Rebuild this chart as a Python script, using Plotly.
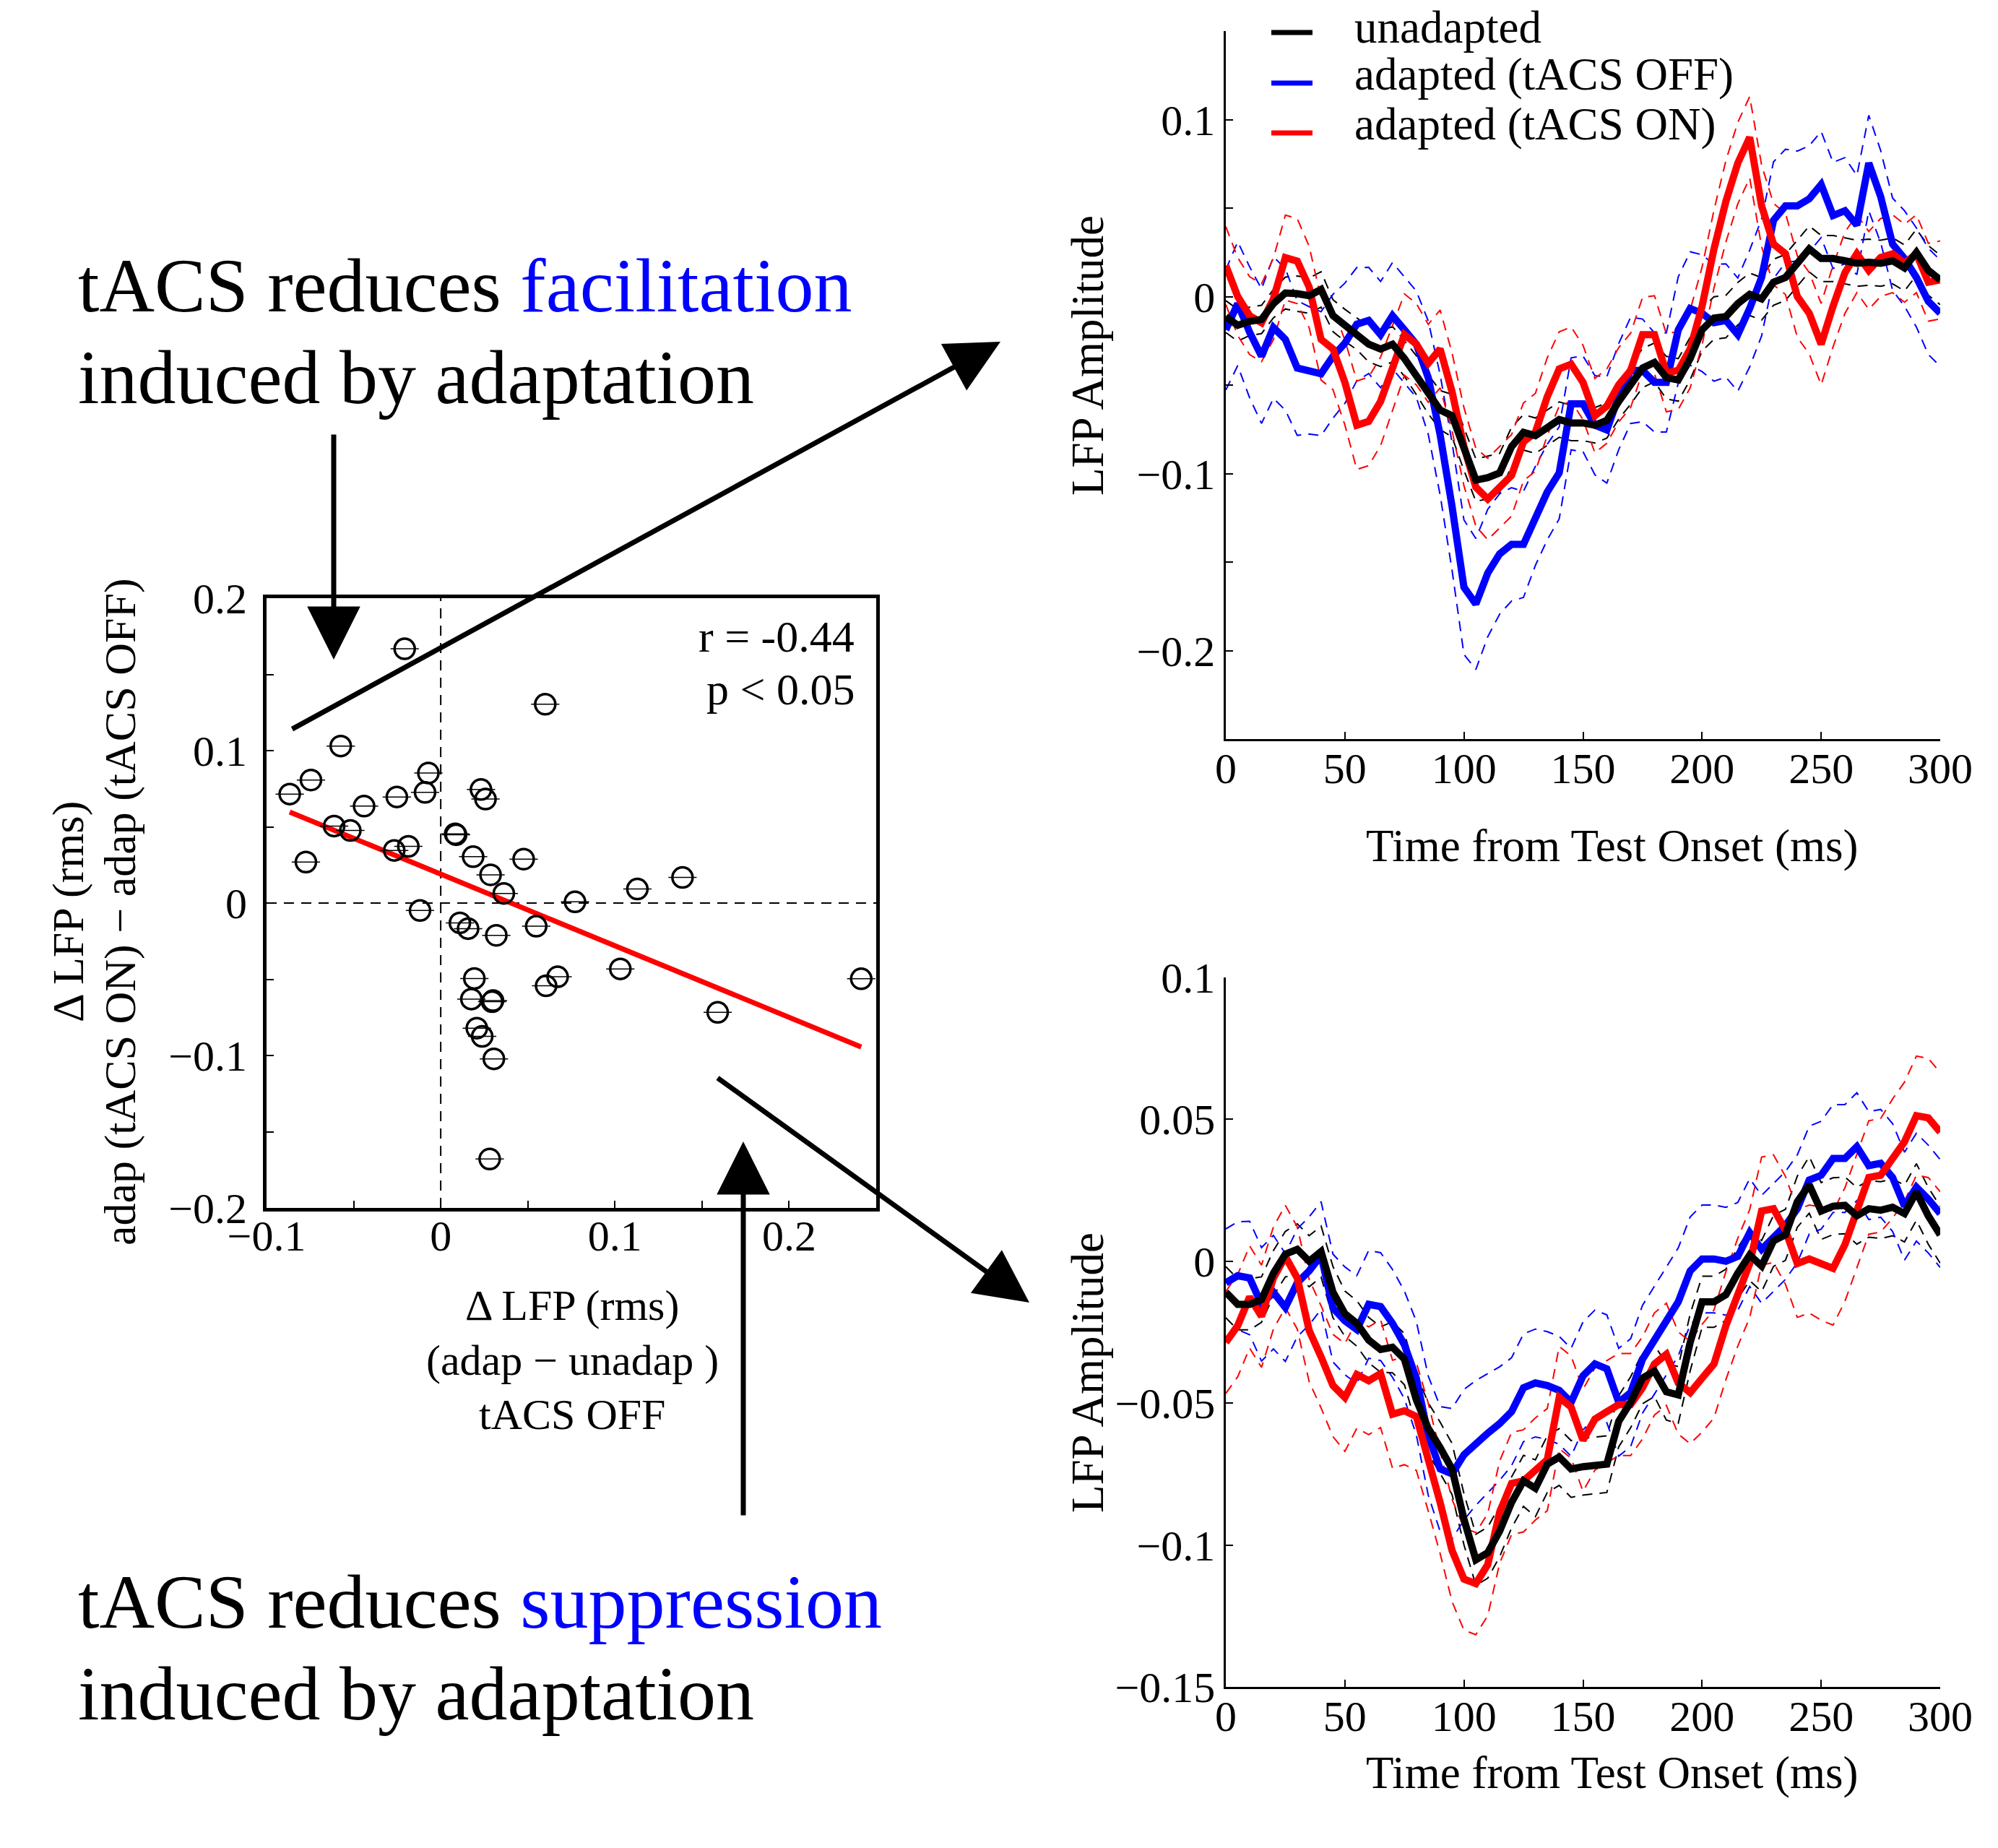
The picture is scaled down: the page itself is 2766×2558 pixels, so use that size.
import numpy as np
import plotly.graph_objects as go

W, H = 2766, 2558
FONT = "Liberation Serif"

def px(x):
    return x / W

def py(y):
    return 1 - y / H

# ---------------- scatter data ----------------
scatter_x = [-0.0207, 0.0600, -0.0574, -0.0745, -0.0867, -0.0071, -0.0252, -0.0090, -0.0440, 0.0231,
             0.0257, -0.0612, -0.0519, 0.0083, 0.0088, -0.0267, -0.0186, -0.0774, 0.0186, 0.0476,
             0.0286, 0.0362, 0.0771, 0.1129, 0.1388, -0.0119, 0.0110, 0.0157, 0.0319, 0.0548,
             0.0193, 0.0671, 0.0605, 0.1031, 0.2414, 0.0176, 0.0295, 0.0300, 0.0207, 0.0238,
             0.0305, 0.1590, 0.0281]
scatter_y = [0.1668, 0.1304, 0.1030, 0.0807, 0.0715, 0.0853, 0.0696, 0.0726, 0.0636, 0.0745,
             0.0682, 0.0505, 0.0476, 0.0454, 0.0448, 0.0345, 0.0372, 0.0269, 0.0304, 0.0288,
             0.0185, 0.0063, 0.0008, 0.0092, 0.0168, -0.0049, -0.0130, -0.0168, -0.0212, -0.0152,
             -0.0495, -0.0484, -0.0543, -0.0432, -0.0497, -0.0630, -0.0647, -0.0640, -0.0821, -0.0875,
             -0.1022, -0.0717, -0.1679]
fit_slope = -0.47
fit_intercept = 0.019
stats_text = ["r = -0.44", "p < 0.05"]

# ---------------- time series data ----------------
time_ms = list(range(0, 305, 5))

black_top = [-0.0113, -0.0162, -0.0140, -0.0129, -0.0040, 0.0020, 0.0016, 0.0005, 0.0040, -0.0108,
             -0.0162, -0.0210, -0.0269, -0.0296, -0.0269, -0.0350, -0.0444, -0.0552, -0.0641, -0.0673,
             -0.0862, -0.1037, -0.1023, -0.0996, -0.0848, -0.0767, -0.0786, -0.0740, -0.0695, -0.0714,
             -0.0714, -0.0727, -0.0700, -0.0592, -0.0498, -0.0404, -0.0372, -0.0458, -0.0471, -0.0350,
             -0.0188, -0.0121, -0.0113, -0.0040, 0.0013, -0.0013, 0.0081, 0.0108, 0.0188, 0.0269,
             0.0215, 0.0215, 0.0202, 0.0188, 0.0194, 0.0188, 0.0202, 0.0162, 0.0250, 0.0148,
             0.0094]
blue_top = [-0.0188, -0.0040, -0.0202, -0.0337, -0.0175, -0.0242, -0.0404, -0.0417, -0.0436, -0.0337,
            -0.0264, -0.0156, -0.0135, -0.0215, -0.0108, -0.0188, -0.0269, -0.0458, -0.0781, -0.1185,
            -0.1642, -0.1737, -0.1562, -0.1454, -0.1400, -0.1400, -0.1239, -0.1104, -0.0996, -0.0606,
            -0.0606, -0.0727, -0.0754, -0.0565, -0.0417, -0.0417, -0.0485, -0.0485, -0.0188, -0.0067,
            -0.0094, -0.0148, -0.0135, -0.0215, -0.0067, 0.0108, 0.0431, 0.0512, 0.0512, 0.0552,
            0.0633, 0.0458, 0.0485, 0.0404, 0.0754, 0.0565, 0.0296, 0.0215, 0.0108, -0.0027,
            -0.0094]
red_top = [0.0175, 0.0000, -0.0108, -0.0148, -0.0013, 0.0220, 0.0200, 0.0054, -0.0242, -0.0296,
           -0.0485, -0.0727, -0.0705, -0.0592, -0.0404, -0.0215, -0.0269, -0.0377, -0.0296, -0.0538,
           -0.0848, -0.1077, -0.1144, -0.1077, -0.1010, -0.0821, -0.0767, -0.0565, -0.0409, -0.0382,
           -0.0485, -0.0673, -0.0619, -0.0498, -0.0417, -0.0215, -0.0215, -0.0431, -0.0417, -0.0296,
           -0.0054, 0.0269, 0.0538, 0.0754, 0.0900, 0.0512, 0.0296, 0.0242, 0.0000, -0.0094,
           -0.0269, -0.0054, 0.0135, 0.0242, 0.0148, 0.0221, 0.0242, 0.0188, 0.0242, 0.0081,
           0.0094]
black_sem_top = [0.009, 0.009, 0.008, 0.008, 0.008, 0.009, 0.010, 0.010, 0.010, 0.009,
                 0.009, 0.009, 0.010, 0.010, 0.010, 0.010, 0.011, 0.011, 0.011, 0.012,
                 0.012, 0.012, 0.012, 0.011, 0.011, 0.010, 0.010, 0.010, 0.010, 0.010,
                 0.010, 0.010, 0.010, 0.010, 0.011, 0.011, 0.011, 0.012, 0.012, 0.012,
                 0.012, 0.012, 0.012, 0.012, 0.012, 0.012, 0.013, 0.013, 0.013, 0.013,
                 0.013, 0.013, 0.013, 0.013, 0.013, 0.013, 0.013, 0.013, 0.013, 0.014,
                 0.014]
blue_sem_top = [0.034, 0.035, 0.037, 0.038, 0.040, 0.040, 0.038, 0.036, 0.035, 0.035,
                0.034, 0.032, 0.030, 0.030, 0.030, 0.030, 0.030, 0.032, 0.034, 0.036,
                0.038, 0.037, 0.036, 0.034, 0.032, 0.030, 0.028, 0.027, 0.026, 0.026,
                0.027, 0.028, 0.030, 0.030, 0.030, 0.029, 0.028, 0.028, 0.030, 0.032,
                0.033, 0.033, 0.032, 0.032, 0.033, 0.033, 0.033, 0.032, 0.031, 0.030,
                0.030, 0.030, 0.030, 0.028, 0.027, 0.026, 0.026, 0.027, 0.028, 0.030,
                0.030]
red_sem_top = [0.022, 0.022, 0.022, 0.022, 0.023, 0.024, 0.024, 0.023, 0.023, 0.023,
               0.024, 0.025, 0.025, 0.025, 0.024, 0.023, 0.023, 0.022, 0.022, 0.022,
               0.022, 0.022, 0.023, 0.023, 0.023, 0.022, 0.022, 0.022, 0.021, 0.021,
               0.021, 0.021, 0.021, 0.021, 0.021, 0.021, 0.022, 0.022, 0.022, 0.022,
               0.022, 0.022, 0.023, 0.023, 0.023, 0.023, 0.023, 0.023, 0.023, 0.023,
               0.023, 0.023, 0.023, 0.022, 0.022, 0.022, 0.022, 0.022, 0.022, 0.022,
               0.022]

black_bot = [-0.0109, -0.0152, -0.0152, -0.0135, -0.0042, 0.0025, 0.0042, 0.0000, 0.0034, -0.0109,
             -0.0185, -0.0219, -0.0278, -0.0311, -0.0303, -0.0345, -0.0488, -0.0589, -0.0657, -0.0732,
             -0.0909, -0.1052, -0.1027, -0.0951, -0.0850, -0.0774, -0.0800, -0.0715, -0.0690, -0.0732,
             -0.0724, -0.0719, -0.0715, -0.0564, -0.0497, -0.0412, -0.0387, -0.0460, -0.0471, -0.0286,
             -0.0143, -0.0143, -0.0118, -0.0042, 0.0022, -0.0017, 0.0072, 0.0093, 0.0210, 0.0269,
             0.0177, 0.0194, 0.0197, 0.0160, 0.0185, 0.0180, 0.0190, 0.0168, 0.0244, 0.0160,
             0.0093]
blue_bot = [-0.0076, -0.0051, -0.0059, -0.0152, -0.0109, -0.0163, -0.0076, -0.0034, 0.0020, -0.0165,
            -0.0210, -0.0241, -0.0152, -0.0160, -0.0219, -0.0295, -0.0412, -0.0614, -0.0732, -0.0749,
            -0.0682, -0.0640, -0.0606, -0.0572, -0.0530, -0.0446, -0.0429, -0.0438, -0.0455, -0.0497,
            -0.0404, -0.0362, -0.0379, -0.0497, -0.0463, -0.0345, -0.0278, -0.0210, -0.0143, -0.0034,
            0.0008, 0.0008, 0.0000, 0.0017, 0.0101, 0.0042, 0.0084, 0.0126, 0.0185, 0.0286,
            0.0303, 0.0362, 0.0362, 0.0404, 0.0337, 0.0345, 0.0295, 0.0194, 0.0261, 0.0219,
            0.0168]
red_bot = [-0.0286, -0.0227, -0.0126, -0.0194, -0.0059, 0.0017, -0.0059, -0.0244, -0.0337, -0.0438,
           -0.0480, -0.0399, -0.0421, -0.0396, -0.0539, -0.0527, -0.0547, -0.0690, -0.0850, -0.1019,
           -0.1120, -0.1136, -0.1069, -0.0884, -0.0783, -0.0774, -0.0732, -0.0699, -0.0480, -0.0514,
           -0.0631, -0.0556, -0.0530, -0.0505, -0.0505, -0.0446, -0.0362, -0.0328, -0.0429, -0.0463,
           -0.0412, -0.0362, -0.0227, -0.0109, -0.0008, 0.0177, 0.0185, 0.0109, -0.0008, 0.0008,
           -0.0008, -0.0025, 0.0059, 0.0177, 0.0295, 0.0303, 0.0362, 0.0421, 0.0513, 0.0505,
           0.0455]
black_sem_bot = [0.009, 0.009, 0.009, 0.008, 0.008, 0.008, 0.009, 0.009, 0.009, 0.009,
                 0.008, 0.008, 0.008, 0.008, 0.009, 0.009, 0.009, 0.009, 0.009, 0.009,
                 0.009, 0.009, 0.009, 0.009, 0.009, 0.009, 0.010, 0.010, 0.010, 0.010,
                 0.010, 0.010, 0.010, 0.009, 0.009, 0.009, 0.009, 0.010, 0.010, 0.010,
                 0.009, 0.009, 0.009, 0.009, 0.009, 0.009, 0.009, 0.009, 0.009, 0.010,
                 0.010, 0.010, 0.010, 0.010, 0.010, 0.010, 0.010, 0.010, 0.010, 0.010,
                 0.010]
blue_sem_bot = [0.019, 0.019, 0.020, 0.020, 0.020, 0.019, 0.019, 0.019, 0.019, 0.019,
                0.019, 0.019, 0.019, 0.019, 0.019, 0.019, 0.020, 0.021, 0.022, 0.023,
                0.023, 0.022, 0.021, 0.020, 0.019, 0.019, 0.019, 0.019, 0.019, 0.019,
                0.019, 0.019, 0.019, 0.019, 0.019, 0.019, 0.019, 0.019, 0.019, 0.019,
                0.019, 0.019, 0.019, 0.019, 0.019, 0.019, 0.019, 0.019, 0.019, 0.019,
                0.019, 0.019, 0.019, 0.019, 0.019, 0.019, 0.019, 0.019, 0.019, 0.019,
                0.019]
red_sem_bot = [0.018, 0.018, 0.018, 0.018, 0.018, 0.018, 0.018, 0.018, 0.018, 0.018,
               0.019, 0.019, 0.019, 0.019, 0.019, 0.019, 0.019, 0.019, 0.018, 0.018,
               0.018, 0.018, 0.018, 0.018, 0.018, 0.018, 0.018, 0.018, 0.018, 0.018,
               0.018, 0.018, 0.018, 0.018, 0.018, 0.018, 0.018, 0.018, 0.018, 0.018,
               0.019, 0.019, 0.019, 0.019, 0.019, 0.019, 0.019, 0.019, 0.019, 0.019,
               0.020, 0.020, 0.020, 0.020, 0.020, 0.020, 0.021, 0.021, 0.021, 0.021,
               0.021]

series_names = ["unadapted", "adapted (tACS OFF)", "adapted (tACS ON)"]
series_colors = ["#000000", "#0000ff", "#ff0000"]

scatter_xticks = [-0.1, -0.05, 0, 0.05, 0.1, 0.15, 0.2]
scatter_xticktext = ["\u22120.1", "", "0", "", "0.1", "", "0.2"]
scatter_yticks = [-0.2, -0.15, -0.1, -0.05, 0, 0.05, 0.1, 0.15, 0.2]
scatter_yticktext = ["\u22120.2", "", "\u22120.1", "", "0", "", "0.1", "", "0.2"]
time_ticks = [0, 50, 100, 150, 200, 250, 300]
top_yticks = [-0.25, -0.2, -0.15, -0.1, -0.05, 0, 0.05, 0.1, 0.15]
top_yticktext = ["", "\u22120.2", "", "\u22120.1", "", "0", "", "0.1", ""]
bot_yticks = [-0.15, -0.1, -0.05, 0, 0.05, 0.1]
bot_yticktext = ["\u22120.15", "\u22120.1", "\u22120.05", "0", "0.05", "0.1"]

# ---------------- figure ----------------
fig = go.Figure()

# scatter reference dashed lines (x=0 and y=0)
fig.add_trace(go.Scatter(x=[0, 0], y=[-0.2, 0.2], mode="lines",
                         line=dict(color="black", width=2, dash="14px,10px"),
                         xaxis="x", yaxis="y", showlegend=False, hoverinfo="skip"))
fig.add_trace(go.Scatter(x=[-0.1, 0.25], y=[0, 0], mode="lines",
                         line=dict(color="black", width=2, dash="14px,10px"),
                         xaxis="x", yaxis="y", showlegend=False, hoverinfo="skip"))
# regression line
sx = np.array(scatter_x)
fit_x = np.array([sx.min(), sx.max()])
fig.add_trace(go.Scatter(x=fit_x, y=fit_intercept + fit_slope * fit_x, mode="lines",
                         line=dict(color="#ff0000", width=7),
                         xaxis="x", yaxis="y", showlegend=False, hoverinfo="skip"))
# points
fig.add_trace(go.Scatter(x=scatter_x, y=scatter_y, mode="markers",
                         marker=dict(symbol="circle-open", size=28, color="black",
                                     line=dict(width=3.5, color="black")),
                         xaxis="x", yaxis="y", showlegend=False))
fig.add_trace(go.Scatter(x=scatter_x, y=scatter_y, mode="markers",
                         marker=dict(symbol="line-ew-open", size=28, color="black",
                                     line=dict(width=1.5, color="black")),
                         xaxis="x", yaxis="y", showlegend=False, hoverinfo="skip"))

def add_panel(xa, ya, means, sems):
    t = np.array(time_ms)
    for m, s, c in zip(means, sems, series_colors):
        m = np.array(m)
        s = np.array(s)
        for band in (m + s, m - s):
            fig.add_trace(go.Scatter(x=t, y=band, mode="lines",
                                     line=dict(color=c, width=2, dash="14px,10px"),
                                     xaxis=xa, yaxis=ya, showlegend=False, hoverinfo="skip"))
    order = [1, 2, 0]  # blue, red, then black on top
    for i in order:
        fig.add_trace(go.Scatter(x=t, y=means[i], mode="lines",
                                 line=dict(color=series_colors[i], width=10),
                                 name=series_names[i],
                                 xaxis=xa, yaxis=ya, showlegend=False))

add_panel("x2", "y2", [black_top, blue_top, red_top], [black_sem_top, blue_sem_top, red_sem_top])
add_panel("x3", "y3", [black_bot, blue_bot, red_bot], [black_sem_bot, blue_sem_bot, red_sem_bot])

tickfont = dict(family=FONT, size=60, color="black")

common = dict(showgrid=False, zeroline=False, ticks="inside", tickcolor="black",
              tickfont=tickfont, showline=True, linecolor="black", automargin=False)

layout = dict(
    template="none",
    width=W, height=H, autosize=False,
    margin=dict(l=0, r=0, t=0, b=0, pad=0, autoexpand=False),
    paper_bgcolor="white", plot_bgcolor="rgba(0,0,0,0)",
    font=dict(family=FONT, color="black"),
    showlegend=False, hovermode=False,
    xaxis=dict(domain=[px(369), px(1213)], range=[-0.1, 0.25], tickvals=scatter_xticks,
               ticktext=scatter_xticktext, ticklen=10, tickwidth=2, linewidth=5, mirror=True,
               anchor="y", ticklabelstandoff=-18, **common),
    yaxis=dict(domain=[py(1672), py(828)], range=[-0.2, 0.2], tickvals=scatter_yticks,
               ticktext=scatter_yticktext, ticklen=10, tickwidth=2, linewidth=5, mirror=True,
               anchor="x", ticklabelstandoff=10, **common),
    xaxis2=dict(domain=[px(1697), px(2686)], range=[0, 300], tickvals=time_ticks,
                ticklen=10, tickwidth=2, linewidth=2.5, anchor="y2", ticklabelstandoff=-14, **common),
    yaxis2=dict(domain=[py(1023), py(43)], range=[-0.25, 0.15], tickvals=top_yticks,
                ticktext=top_yticktext, ticklen=10, tickwidth=2, linewidth=2.5, anchor="x2",
                ticklabelstandoff=0, **common),
    xaxis3=dict(domain=[px(1697), px(2686)], range=[0, 300], tickvals=time_ticks,
                ticklen=10, tickwidth=2, linewidth=2.5, anchor="y3", ticklabelstandoff=-14, **common),
    yaxis3=dict(domain=[py(2335), py(1353)], range=[-0.15, 0.1], tickvals=bot_yticks,
                ticktext=bot_yticktext, ticklen=10, tickwidth=2, linewidth=2.5, anchor="x3",
                ticklabelstandoff=0, **common),
)
fig.update_layout(**layout)

ann = []

def text(x, y, s, size, anchor="center", angle=0, color="black"):
    ann.append(dict(x=px(x), y=py(y), xref="paper", yref="paper", text=s, showarrow=False,
                    xanchor=anchor, yanchor="middle", textangle=angle,
                    font=dict(family=FONT, size=size, color=color)))

# big statements
text(106, 396, "tACS reduces <span style='color:#0000ff'>facilitation</span>", 106, "left")
text(106, 522, "induced by adaptation", 106, "left")
text(106, 2217, "tACS reduces <span style='color:#0000ff'>suppression</span>", 106, "left")
text(106, 2344, "induced by adaptation", 106, "left")

# scatter stats
text(1185, 881, stats_text[0], 62, "right")
text(1185, 954, stats_text[1], 62, "right")

# scatter axis titles
text(792, 1807, "\u0394 LFP (rms)", 60)
text(792, 1883, "(adap \u2212 unadap )", 60)
text(792, 1958, "tACS OFF", 60)
text(94, 1262, "\u0394 LFP (rms)", 62, angle=-90)
text(166, 1262, "adap (tACS ON) \u2212 adap (tACS OFF)", 62, angle=-90)

# right panel titles
text(1506, 492, "LFP Amplitude", 63, angle=-90)
text(1506, 1900, "LFP Amplitude", 63, angle=-90)
text(2232, 1171, "Time from Test Onset (ms)", 63)
text(2232, 2454, "Time from Test Onset (ms)", 63)

# legend text
legend_y = [38, 103, 172]
line_y = [45, 115, 184]
for name, yy in zip(series_names, legend_y):
    text(1873, yy, name, 63, "left")

# arrows
def arrow(hx, hy, tx, ty):
    ann.append(dict(x=px(hx), y=py(hy), xref="paper", yref="paper", text="",
                    showarrow=True, ax=tx - hx, ay=ty - hy, axref="pixel", ayref="pixel",
                    arrowhead=2, arrowsize=2.1, arrowwidth=7, arrowcolor="black", standoff=0))

arrow(462, 913, 462, 600)
arrow(1385, 473, 403, 1010)
arrow(1425, 1803, 992, 1491)
arrow(1029, 1580, 1029, 2099)

fig.update_layout(annotations=ann)

shapes = []
for c, yy in zip(series_colors, line_y):
    shapes.append(dict(type="line", xref="paper", yref="paper", x0=px(1760), x1=px(1817),
                       y0=py(yy), y1=py(yy), line=dict(color=c, width=7)))
fig.update_layout(shapes=shapes)

fig.write_html("out.html", config={"displayModeBar": False},
               post_script="document.body.style.margin='0';document.documentElement.style.overflow='hidden';")
